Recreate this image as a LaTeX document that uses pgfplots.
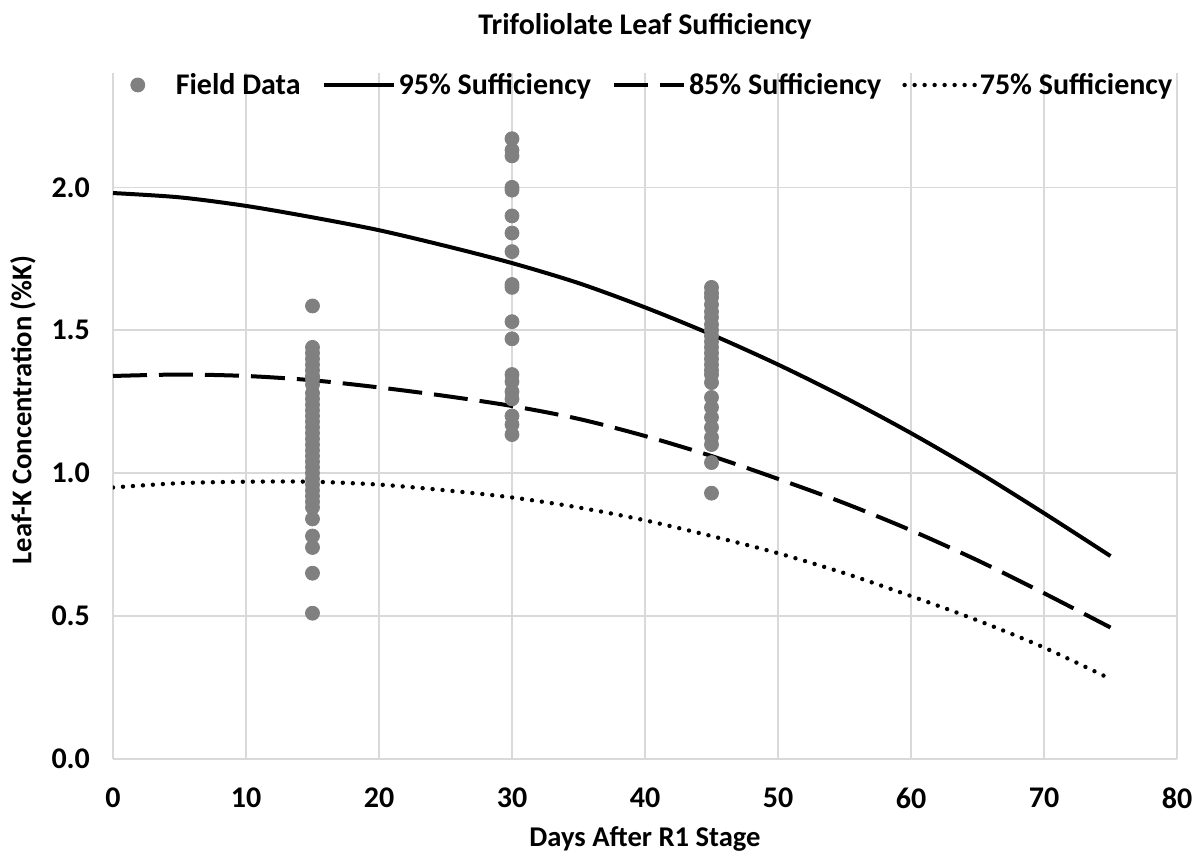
\documentclass[border=0pt]{standalone}
\usepackage{fontspec}
\setmainfont{Carlito}
\usepackage{pgfplots}
\pgfplotsset{compat=1.18}
\definecolor{fieldgray}{HTML}{808080}
\definecolor{gridgray}{HTML}{D9D9D9}
\newcommand{\lbl}{\bfseries\fontsize{14.3}{17}\selectfont}
\newcommand{\bigf}{\bfseries\fontsize{15}{18}\selectfont}
\begin{document}
\begin{tikzpicture}
\path (-56.5pt,-49.5pt) rectangle (543.5pt,379.5pt);
\begin{axis}[
    at={(0,0)}, anchor=south west,
    scale only axis,
    width=532pt, height=343pt,
    xmin=0, xmax=80, ymin=0, ymax=2.4,
    xtick={0,10,...,80},
    ytick={0,0.5,1.0,1.5,2.0},
    yticklabel style={/pgf/number format/fixed, /pgf/number format/fixed zerofill,
        /pgf/number format/precision=1, xshift=-8pt},
    /pgf/number format/assume math mode=true,
    tick label style={font=\bigf},
    xticklabel style={yshift=-11pt},
    major tick length=0pt,
    axis line style={draw=none},
    grid=major,
    grid style={gridgray, line width=0.8pt},
    title={Trifoliolate Leaf Sufficiency},
    title style={font=\bigf, at={(0.5,1)}, anchor=center, yshift=17.5pt},
    xlabel={Days After R1 Stage},
    xlabel style={font=\lbl, at={(0.5,0)}, anchor=center, yshift=-40pt},
    ylabel={Leaf-K Concentration (\%K)},
    ylabel style={font=\lbl, at={(0,0.5)}, anchor=center, yshift=45pt, xshift=3pt},
    legend columns=4,
    legend style={draw=none, fill=none, font=\bigf, at={(0.5,1)}, anchor=center,
        yshift=-6pt, xshift=-3pt, nodes={inner sep=1.5pt},
        /tikz/every even column/.append style={column sep=9pt}},
    legend image code/.code={\draw[#1] (0pt,0pt) -- (35pt,0pt);},
]
\draw[gridgray, line width=0.8pt] (axis cs:0,0) -- (axis cs:80,0);
\addplot[only marks, mark=*, mark size=3.5pt, color=fieldgray,
    legend image code/.code={\path[draw=none] (0pt,0pt) -- (35pt,0pt);
        \fill[fieldgray] (17.5pt,0pt) circle (3.5pt);}]
coordinates {
(15,1.585)(15,1.44)(15,1.42)(15,1.40)(15,1.38)(15,1.36)(15,1.34)(15,1.33)
(15,1.31)(15,1.28)(15,1.26)(15,1.24)(15,1.22)(15,1.20)(15,1.18)(15,1.16)
(15,1.14)(15,1.12)(15,1.10)(15,1.08)(15,1.06)(15,1.04)(15,1.02)(15,1.00)
(15,0.98)(15,0.96)(15,0.94)(15,0.92)(15,0.90)(15,0.88)(15,0.84)(15,0.78)
(15,0.74)(15,0.65)(15,0.51)
(30,2.17)(30,2.13)(30,2.11)(30,2.00)(30,1.99)(30,1.90)(30,1.84)(30,1.775)
(30,1.66)(30,1.65)(30,1.53)(30,1.47)(30,1.345)(30,1.32)(30,1.285)(30,1.26)
(30,1.20)(30,1.17)(30,1.135)
(45,1.65)(45,1.63)(45,1.615)(45,1.59)(45,1.565)(45,1.545)(45,1.52)(45,1.50)
(45,1.48)(45,1.46)(45,1.44)(45,1.42)(45,1.40)(45,1.38)(45,1.36)(45,1.345)
(45,1.317)(45,1.265)(45,1.23)(45,1.195)(45,1.16)(45,1.125)(45,1.10)(45,1.037)
(45,0.93)
};
\addlegendentry{Field Data}
\addplot[black, line width=2pt, smooth, no marks]
coordinates {
(0,1.98)(5,1.965)(10,1.935)(15,1.895)(20,1.85)(25,1.795)(30,1.735)(35,1.665)
(40,1.58)(45,1.485)(50,1.38)(55,1.265)(60,1.14)(65,1.005)(70,0.86)(75,0.71)
};
\addlegendentry{95\% Sufficiency}
\addplot[black, line width=2pt, smooth, no marks, dash pattern=on 17pt off 6pt]
coordinates {
(0,1.34)(5,1.345)(10,1.34)(15,1.325)(20,1.30)(25,1.27)(30,1.235)(35,1.19)
(40,1.13)(45,1.06)(50,0.98)(55,0.895)(60,0.80)(65,0.695)(70,0.58)(75,0.46)
};
\addlegendentry{85\% Sufficiency}
\addplot[black, line width=2.2pt, smooth, no marks, line cap=round, dash pattern=on 0pt off 5pt]
coordinates {
(0,0.95)(5,0.965)(10,0.97)(15,0.97)(20,0.96)(25,0.94)(30,0.915)(35,0.88)
(40,0.835)(45,0.78)(50,0.72)(55,0.65)(60,0.57)(65,0.485)(70,0.39)(75,0.28)
};
\addlegendentry{75\% Sufficiency}
\end{axis}
\end{tikzpicture}
\end{document}
